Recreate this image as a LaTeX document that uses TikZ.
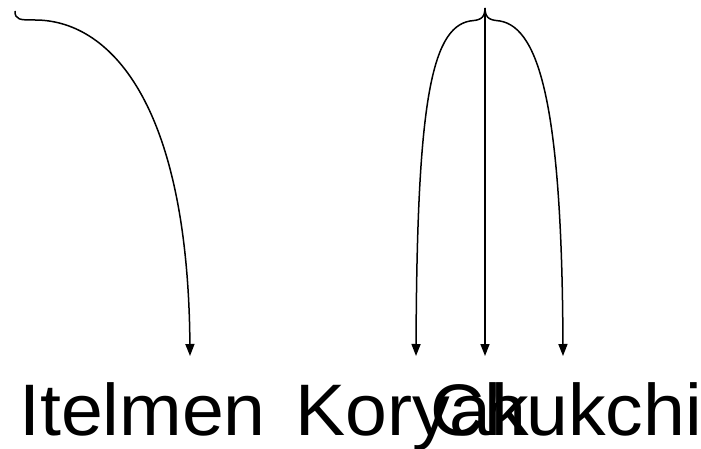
\documentclass[tikz,border=0pt]{standalone}
\usepackage{fontspec}
\setmainfont{Liberation Sans}
\usetikzlibrary{arrows.meta}
\begin{document}
\begin{tikzpicture}[x=1pt,y=-1pt,
  edge/.style={line width=1.5pt,-{Triangle[length=12pt,width=9pt]}},
  lab/.style={inner sep=0pt,anchor=base west,xscale=1.03,transform shape,font=\fontsize{73}{73}\selectfont}]
\useasboundingbox (0,0) rectangle (701,449);
\coordinate (r1) at (15,11);
\coordinate (r2) at (485,8);
\coordinate (t1) at (190,356);
\coordinate (t2) at (416,356);
\coordinate (t3) at (485,356);
\coordinate (t4) at (563,356);
\node[lab] (itelmen) at (19,435) {Itelmen};
\node[lab] (koryak) at (295,435) {Koryak};
\node[lab] (chukchi) at (430,435) {Chukchi};
\draw[edge] (r1) .. controls (15,20) and (20,20) .. (35,20)
  .. controls (108,20) and (188,100) .. (t1);
\draw[edge] (r2) .. controls (485,20) and (478,20) .. (470,21)
  .. controls (430,28) and (417,110) .. (t2);
\draw[edge] (r2) -- (t3);
\draw[edge] (r2) .. controls (485,20) and (492,20) .. (500,21)
  .. controls (540,28) and (562,110) .. (t4);
\end{tikzpicture}
\end{document}
